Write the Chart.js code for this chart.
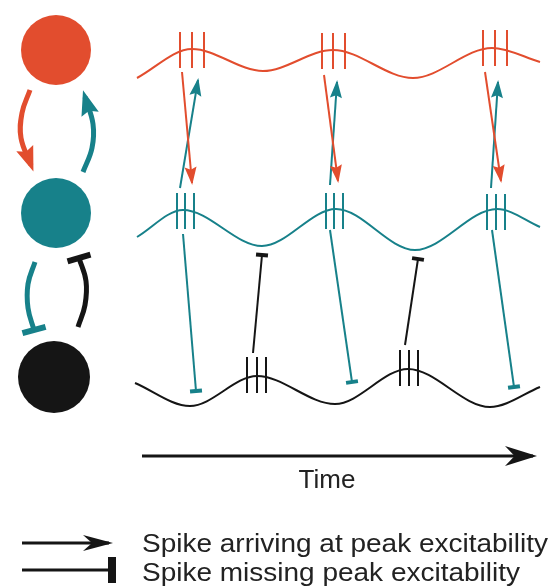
<!DOCTYPE html>
<html>
<head>
<meta charset="utf-8">
<script src="https://cdn.jsdelivr.net/npm/chart.js@4.4.0/dist/chart.umd.min.js"></script>
<style>
  html, body { margin: 0; padding: 0; background: #fff; }
</style>
</head>
<body>
<canvas id="myChart" width="551" height="588"></canvas>
<script>
const RED = '#e24d2e';
const TEAL = '#17818a';
const BLACK = '#151515';

// the three cells on the left
const cellX = [56, 56, 54];
const cellY = [50, 213, 377];
const cellR = [35, 35, 36];

// oscillations (peaks and troughs)
const redWaveX = [137, 192, 263, 333, 413, 492, 540];
const redWaveY = [78, 49, 71, 50, 78, 48, 62];
const tealWaveX = [137, 183, 262, 336, 415, 497, 540];
const tealWaveY = [237, 210, 246, 209, 250, 209, 227];
const blackWaveX = [135, 190, 257, 335, 408, 490, 540];
const blackWaveY = [383, 406, 376, 404, 369, 407, 387];

// spike bursts (3 spikes each)
const redSpikeX = [180, 192, 204, 322, 333, 345, 483, 495, 507];
const redSpikeY = [50, 50, 50, 51, 51, 51, 48, 48, 48];
const tealSpikeX = [177, 185, 194, 326, 334, 343, 487, 496, 505];
const tealSpikeY = [211, 211, 211, 211, 211, 211, 212, 212, 212];
const blackSpikeX = [247, 257, 266, 400, 409, 418];
const blackSpikeY = [375, 375, 375, 368, 368, 368];

// projections [from x, from y, to x, to y]
const redToTeal = [[182, 72, 192, 183], [324, 75, 338, 181], [485, 72, 501, 181]];
const tealToRed = [[180, 188, 198, 80], [330, 185, 337, 82], [491, 188, 498, 82]];
const tealToBlack = [[183, 234, 196, 391], [330, 230, 352, 382], [492, 230, 514, 387]];
const blackToTeal = [[253, 353, 262, 255], [405, 345, 418, 259]];

// loops between the cells
const redLoop = [[30, 90], [22, 113], [21, 138], [31, 165]];
const tealLoop = [[83, 172], [92, 148], [93, 124], [85, 97]];
const tealInhib = [[35, 262], [28, 284], [28, 308], [34, 330]];
const blackInhib = [[78, 327], [85, 305], [86, 281], [79, 258]];

// time axis and legend
const timeArrow = [[142, 456], [533, 456]];
const legendArrow = [[22, 543], [109, 543]];
const legendBar = [[22, 570], [112, 570]];
const timeLabel = 'Time';
const timeLabelPos = [327, 488];
const legendLabels = ['Spike arriving at peak excitability', 'Spike missing peak excitability'];
const legendLabelY = [552, 581];
const legendLabelX = [142, 548];

const datasets = [];

function zip(xs, ys) {
  return xs.map((v, i) => ({x: v, y: ys[i]}));
}

function addLine(points, color, width, head, tension) {
  datasets.push({
    type: 'line',
    data: points.map(p => ({x: p[0], y: p[1]})),
    borderColor: color,
    borderWidth: width,
    pointRadius: 0,
    tension: tension || 0,
    fill: false,
    head: head
  });
}

// waves
[[redWaveX, redWaveY, RED], [tealWaveX, tealWaveY, TEAL], [blackWaveX, blackWaveY, BLACK]].forEach(w => {
  datasets.push({
    type: 'line',
    data: zip(w[0], w[1]),
    borderColor: w[2],
    borderWidth: 2,
    pointRadius: 0,
    cubicInterpolationMode: 'monotone',
    fill: false
  });
});

// spike ticks
[[redSpikeX, redSpikeY, RED], [tealSpikeX, tealSpikeY, TEAL], [blackSpikeX, blackSpikeY, BLACK]].forEach(s => {
  datasets.push({
    type: 'scatter',
    data: zip(s[0], s[1]),
    pointStyle: 'line',
    pointRotation: 90,
    pointRadius: 18,
    pointBorderColor: s[2],
    pointBorderWidth: 2,
    showLine: false
  });
});

const spikeArrow = {type: 'arrow', len: 18, half: 6, notch: 0.85, extend: 2};
const spikeBar = {type: 'bar', half: 6, thick: 4};
redToTeal.forEach(a => addLine([[a[0], a[1]], [a[2], a[3]]], RED, 2, spikeArrow));
tealToRed.forEach(a => addLine([[a[0], a[1]], [a[2], a[3]]], TEAL, 2, spikeArrow));
tealToBlack.forEach(a => addLine([[a[0], a[1]], [a[2], a[3]]], TEAL, 2, spikeBar));
blackToTeal.forEach(a => addLine([[a[0], a[1]], [a[2], a[3]]], BLACK, 2, spikeBar));

const loopArrow = {type: 'arrow', len: 25, half: 9, notch: 0.85, extend: 7};
const loopBar = {type: 'bar', half: 12, thick: 6};
addLine(redLoop, RED, 5, loopArrow, 0.4);
addLine(tealLoop, TEAL, 5, loopArrow, 0.4);
addLine(tealInhib, TEAL, 5, loopBar, 0.4);
addLine(blackInhib, BLACK, 5, loopBar, 0.4);

addLine(timeArrow, BLACK, 3, {type: 'arrow', len: 32, half: 10, notch: 0.7, extend: 4});
addLine(legendArrow, BLACK, 3, {type: 'arrow', len: 30, half: 8, notch: 0.7, extend: 4});
addLine(legendBar, BLACK, 3, {type: 'bar', half: 13, thick: 8});

// cells
datasets.push({
  type: 'scatter',
  data: zip(cellX, cellY),
  pointStyle: 'circle',
  pointRadius: cellR,
  pointBackgroundColor: [RED, TEAL, BLACK],
  pointBorderWidth: 0
});

// arrow heads and inhibition bars at the end of each projection
const heads = {
  id: 'heads',
  afterDatasetsDraw(chart) {
    const ctx = chart.ctx;
    chart.data.datasets.forEach((ds, i) => {
      if (!ds.head) return;
      const pts = chart.getDatasetMeta(i).data;
      const p = pts[pts.length - 1];
      let px = pts[pts.length - 2].x, py = pts[pts.length - 2].y;
      if (p.cp1x !== undefined && (p.cp1x !== p.x || p.cp1y !== p.y)) {
        px = p.cp1x;
        py = p.cp1y;
      }
      const a = Math.atan2(p.y - py, p.x - px);
      const h = ds.head;
      ctx.save();
      ctx.translate(p.x, p.y);
      ctx.rotate(a);
      ctx.fillStyle = ds.borderColor;
      ctx.strokeStyle = ds.borderColor;
      if (h.type === 'arrow') {
        ctx.translate(h.extend || 0, 0);
        ctx.beginPath();
        ctx.moveTo(0, 0);
        ctx.lineTo(-h.len, -h.half);
        ctx.lineTo(-h.len * h.notch, 0);
        ctx.lineTo(-h.len, h.half);
        ctx.closePath();
        ctx.fill();
      } else {
        ctx.lineWidth = h.thick;
        ctx.beginPath();
        ctx.moveTo(0, -h.half);
        ctx.lineTo(0, h.half);
        ctx.stroke();
      }
      ctx.restore();
    });
  }
};

const labels = {
  id: 'labels',
  afterDraw(chart) {
    const ctx = chart.ctx;
    const x = chart.scales.x, y = chart.scales.y;
    ctx.save();
    ctx.fillStyle = '#222';
    ctx.font = '26px "Liberation Sans", Arial, sans-serif';
    ctx.textBaseline = 'alphabetic';
    ctx.textAlign = 'center';
    ctx.fillText(timeLabel, x.getPixelForValue(timeLabelPos[0]), y.getPixelForValue(timeLabelPos[1]));
    ctx.textAlign = 'left';
    const x0 = x.getPixelForValue(legendLabelX[0]);
    const sx = (x.getPixelForValue(legendLabelX[1]) - x0) / ctx.measureText(legendLabels[0]).width;
    legendLabels.forEach((t, i) => {
      ctx.save();
      ctx.translate(x0, y.getPixelForValue(legendLabelY[i]));
      ctx.scale(sx, 1);
      ctx.fillText(t, 0, 0);
      ctx.restore();
    });
    ctx.restore();
  }
};

new Chart(document.getElementById('myChart'), {
  type: 'scatter',
  data: {datasets: datasets},
  options: {
    responsive: false,
    animation: false,
    events: [],
    layout: {padding: 0, autoPadding: false},
    plugins: {legend: {display: false}, tooltip: {enabled: false}},
    scales: {
      x: {type: 'linear', min: 0, max: 551, display: false},
      y: {type: 'linear', min: 0, max: 588, reverse: true, display: false}
    }
  },
  plugins: [heads, labels]
});
</script>
</body>
</html>
